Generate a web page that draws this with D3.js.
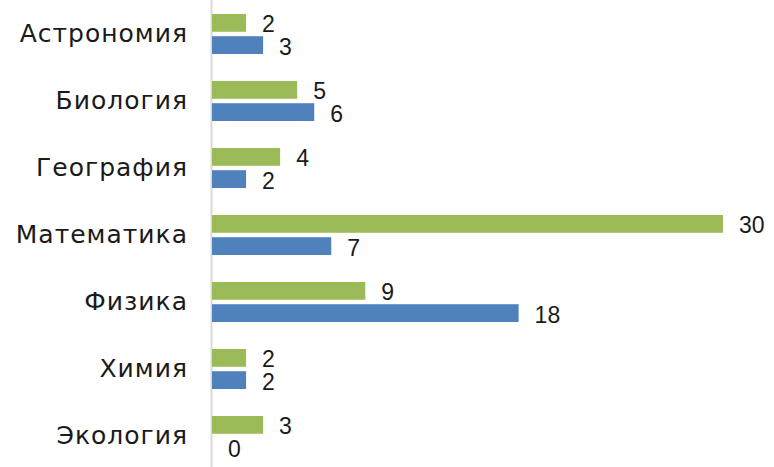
<!DOCTYPE html>
<html>
<head>
<meta charset="utf-8">
<script src="https://d3js.org/d3.v7.min.js"></script>
<style>
  body { margin: 0; background: #fff; }
</style>
</head>
<body>
<div id="container"></div>
<script>
// Data
const categories = ['Астрономия', 'Биология', 'География', 'Математика', 'Физика', 'Химия', 'Экология'];
const seriesNames = ['green', 'blue'];
const greenValues = [2, 5, 4, 30, 9, 2, 3];
const blueValues = [3, 6, 2, 7, 18, 2, 0];

const width = 774;
const height = 467;

const svg = d3.select('#container').append('svg')
    .attr('width', width)
    .attr('height', height);

const color = d3.scaleOrdinal()
    .domain(seriesNames)
    .range(['#9BBB59', '#4F81BD']);

// Scales
const x = d3.scaleLinear()
    .domain([0, 30])
    .range([212, 723]);

const y = d3.scaleBand()
    .domain(categories)
    .range([0.5, 469.5]);

const ySub = d3.scaleBand()
    .domain(seriesNames)
    .range([13.5, 53.5])
    .paddingInner(0.2);

const rows = categories.map((c, i) => ({
    category: c,
    values: [
        { series: 'green', value: greenValues[i] },
        { series: 'blue', value: blueValues[i] }
    ]
}));

// Axis line
svg.append('line')
    .attr('x1', x(0) - 0.5)
    .attr('x2', x(0) - 0.5)
    .attr('y1', 0)
    .attr('y2', height)
    .attr('stroke', '#D9D9D9')
    .attr('stroke-width', 2);

// Category labels
svg.selectAll('.cat')
    .data(categories)
    .enter().append('text')
    .attr('class', 'cat')
    .attr('x', x(0) - 24)
    .attr('y', d => y(d) + y.bandwidth() / 2)
    .attr('dy', '0.33em')
    .attr('text-anchor', 'end')
    .attr('font-family', 'DejaVu Sans, sans-serif')
    .attr('font-size', 25)
    .attr('letter-spacing', 1)
    .attr('fill', '#1a1a1a')
    .text(d => d);

// Bars and value labels
const groups = svg.selectAll('.row')
    .data(rows)
    .enter().append('g')
    .attr('class', 'row')
    .attr('transform', d => `translate(0,${y(d.category)})`);

groups.selectAll('rect')
    .data(d => d.values)
    .enter().append('rect')
    .attr('x', x(0))
    .attr('y', d => ySub(d.series))
    .attr('width', d => x(d.value) - x(0))
    .attr('height', ySub.bandwidth())
    .attr('fill', d => color(d.series));

groups.selectAll('text')
    .data(d => d.values)
    .enter().append('text')
    .attr('x', d => x(d.value) + 16)
    .attr('y', d => ySub(d.series) + ySub.bandwidth() / 2 + 1.5)
    .attr('dy', '0.35em')
    .attr('font-family', 'Liberation Sans, Arial, sans-serif')
    .attr('font-size', 23)
    .attr('fill', '#1a1a1a')
    .text(d => d.value);
</script>
</body>
</html>
